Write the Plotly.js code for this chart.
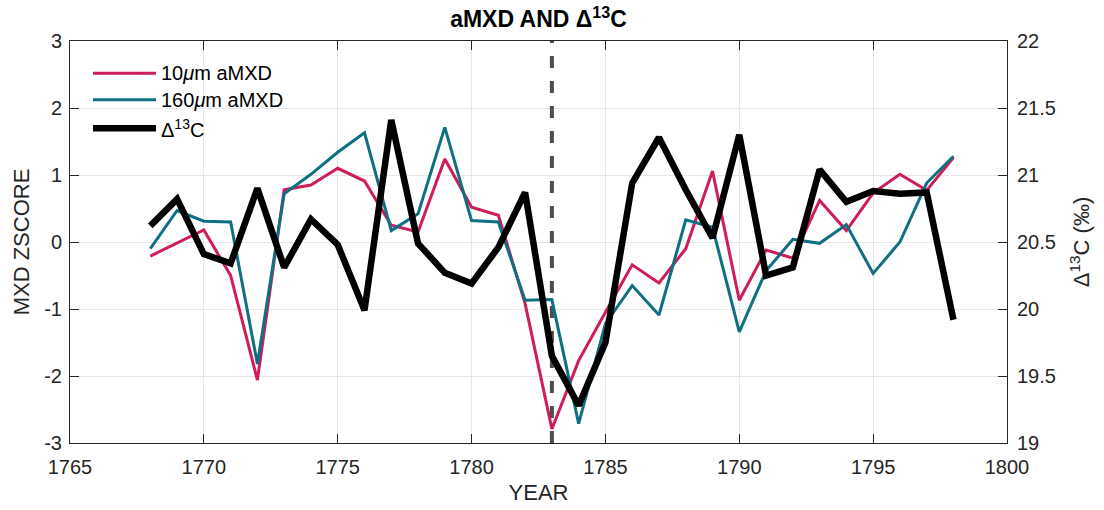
<!DOCTYPE html>
<html>
<head>
<meta charset="utf-8">
<script src="https://cdn.plot.ly/plotly-3.0.1.min.js"></script>
<style>html,body{margin:0;padding:0;background:#fff;}#chart{width:1104px;height:510px;}</style>
</head>
<body>
<div id="chart"></div>
<script>
// ---- data ----
const years = [1768,1769,1770,1771,1772,1773,1774,1775,1776,1777,1778,1779,1780,1781,1782,1783,1784,1785,1786,1787,1788,1789,1790,1791,1792,1793,1794,1795,1796,1797,1798];
const mxd10 = [-0.21,-0.01,0.18,-0.50,-2.06,0.78,0.85,1.10,0.91,0.25,0.15,1.24,0.52,0.40,-0.92,-2.79,-1.77,-1.05,-0.34,-0.61,-0.10,1.06,-0.87,-0.12,-0.24,0.62,0.17,0.73,1.01,0.77,1.26];
const mxd160 = [-0.10,0.47,0.31,0.30,-1.82,0.72,1.01,1.34,1.63,0.17,0.42,1.71,0.32,0.30,-0.87,-0.86,-2.71,-1.22,-0.65,-1.09,0.33,0.22,-1.34,-0.43,0.04,-0.02,0.26,-0.47,0.00,0.88,1.28];
const d13c = [20.62,20.82,20.41,20.34,20.90,20.31,20.67,20.48,19.99,21.41,20.49,20.27,20.19,20.46,20.87,19.65,19.28,19.75,20.94,21.28,20.89,20.53,21.30,20.25,20.31,21.04,20.80,20.88,20.86,20.87,19.92];
const eventYear = 1783;
const seriesNames = ['10<i>μ</i>m aMXD','160<i>μ</i>m aMXD','Δ<sup>13</sup>C'];
const xTicks = [1765,1770,1775,1780,1785,1790,1795,1800];
const yTicks = [-3,-2,-1,0,1,2,3];
const y2Ticks = [19,19.5,20,20.5,21,21.5,22];

const RED = '#cf1c5b', TEAL = '#0f6f83', BLACK = '#000000';
const FONT = '"Liberation Sans", Arial, Helvetica, sans-serif';
const TXT = '#262626';

const traces = [
  {x:[eventYear,eventYear], y:[-3,3], mode:'lines', line:{color:'#4d4d4d', width:4, dash:'12px,13px'}, hoverinfo:'skip', showlegend:false},
  {x:years, y:mxd10, mode:'lines', name:seriesNames[0], line:{color:RED, width:3}},
  {x:years, y:mxd160, mode:'lines', name:seriesNames[1], line:{color:TEAL, width:3}},
  {x:years, y:d13c, mode:'lines', name:seriesNames[2], yaxis:'y2', line:{color:BLACK, width:6.5}}
];

// custom legend (MATLAB-style long line samples)
const legRows = [0.9197, 0.8537, 0.7828];
const legColors = [RED, TEAL, BLACK];
const legWidths = [3, 3, 6.5];
const shapes = [
  {type:'rect', xref:'paper', yref:'paper', x0:0.019, x1:0.231, y0:0.74, y1:0.955, fillcolor:'#ffffff', line:{width:0}, layer:'between'}
];
const annotations = [];
for (let i=0;i<3;i++){
  shapes.push({type:'line', xref:'paper', yref:'paper', x0:0.0245, x1:0.0918, y0:legRows[i], y1:legRows[i], line:{color:legColors[i], width:legWidths[i]}, layer:'above'});
  annotations.push({xref:'paper', yref:'paper', x:0.0955, y:legRows[i], xanchor:'left', yanchor:'middle', text:seriesNames[i], showarrow:false, font:{family:FONT, size:20, color:'#000'}});
}

const layout = {
  width:1104, height:510,
  margin:{l:70, r:97, t:41, b:67},
  paper_bgcolor:'#fff', plot_bgcolor:'#fff',
  font:{family:FONT, size:20, color:TXT},
  showlegend:false,
  title:{text:'<b>aMXD AND Δ<sup>13</sup>C</b>', font:{family:FONT, size:23, color:'#000'}, x:0.5, xref:'paper', y:0.962, yref:'container', yanchor:'middle'},
  xaxis:{range:[1765,1800], tickvals:xTicks, ticktext:xTicks.map(String), ticks:'inside', ticklen:9, tickcolor:TXT,
         tickfont:{family:FONT, size:20, color:TXT},
         showline:true, linecolor:TXT, linewidth:1, mirror:'ticks', showgrid:true, gridcolor:'#e6e6e6', gridwidth:1, zeroline:false,
         ticklabelstandoff:6,
         title:{text:'YEAR', font:{family:FONT, size:22, color:TXT}, standoff:7}},
  yaxis:{range:[-3,3], tickvals:yTicks, ticktext:yTicks.map(String), ticks:'inside', ticklen:9, tickcolor:TXT,
         tickfont:{family:FONT, size:20, color:TXT},
         showline:true, linecolor:TXT, linewidth:1, mirror:false, showgrid:true, gridcolor:'#e6e6e6', gridwidth:1, zeroline:false,
         ticklabelstandoff:3,
         title:{text:'MXD ZSCORE', font:{family:FONT, size:22, color:TXT}, standoff:8}},
  yaxis2:{range:[19,22], tickvals:y2Ticks, ticktext:y2Ticks.map(String), overlaying:'y', side:'right', ticks:'inside', ticklen:9, tickcolor:TXT,
          tickfont:{family:FONT, size:20, color:TXT},
          showline:true, linecolor:TXT, linewidth:1, showgrid:false, zeroline:false,
          ticklabelstandoff:5,
          title:{text:'Δ<sup>13</sup>C (‰)', font:{family:FONT, size:22, color:TXT}, standoff:18}},
  shapes:shapes,
  annotations:annotations
};

Plotly.newPlot('chart', traces, layout, {displayModeBar:false, staticPlot:true});
</script>
</body>
</html>
